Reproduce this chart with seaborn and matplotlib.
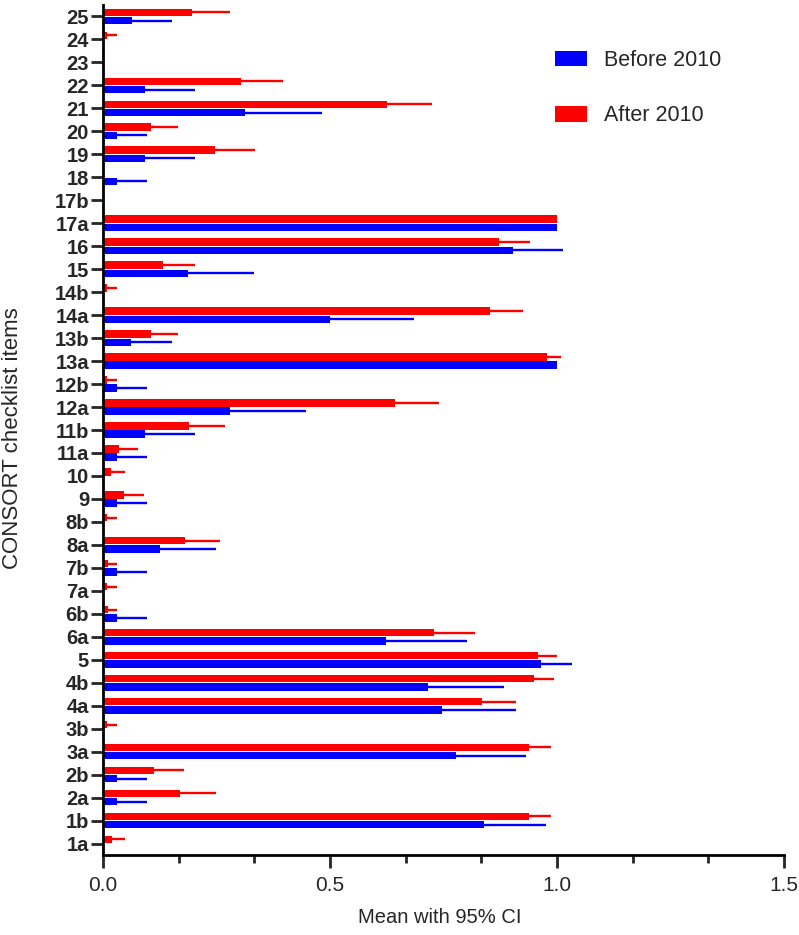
import matplotlib
matplotlib.use("Agg")
import matplotlib.pyplot as plt
import numpy as np
import pandas as pd
import seaborn as sns
from matplotlib.patches import Patch
from matplotlib.ticker import MultipleLocator, FixedLocator

# CONSORT items listed bottom -> top
items = ["1a", "1b", "2a", "2b", "3a", "3b", "4a", "4b", "5", "6a", "6b", "7a", "7b",
         "8a", "8b", "9", "10", "11a", "11b", "12a", "12b", "13a", "13b", "14a", "14b",
         "15", "16", "17a", "17b", "18", "19", "20", "21", "22", "23", "24", "25"]

before_mean = [0.000, 0.840, 0.030, 0.030, 0.778, 0.000, 0.747, 0.716, 0.965, 0.624, 0.030, 0.000, 0.030,
               0.125, 0.000, 0.030, 0.000, 0.030, 0.093, 0.280, 0.030, 1.000, 0.062, 0.499, 0.000,
               0.187, 0.903, 1.000, 0.000, 0.030, 0.093, 0.030, 0.312, 0.093, 0.000, 0.000, 0.063]
before_upper = [0.000, 0.976, 0.097, 0.097, 0.932, 0.000, 0.909, 0.884, 1.033, 0.802, 0.097, 0.000, 0.097,
                0.248, 0.000, 0.097, 0.000, 0.097, 0.203, 0.448, 0.097, 1.000, 0.152, 0.685, 0.000,
                0.332, 1.014, 1.000, 0.000, 0.097, 0.203, 0.097, 0.483, 0.203, 0.000, 0.000, 0.153]
after_mean = [0.020, 0.939, 0.170, 0.113, 0.939, 0.008, 0.834, 0.949, 0.958, 0.730, 0.012, 0.008, 0.010,
              0.180, 0.008, 0.046, 0.018, 0.036, 0.190, 0.644, 0.008, 0.977, 0.105, 0.853, 0.008,
              0.132, 0.873, 1.000, 0.000, 0.000, 0.246, 0.105, 0.626, 0.303, 0.000, 0.008, 0.197]
after_upper = [0.048, 0.987, 0.248, 0.178, 0.987, 0.031, 0.910, 0.994, 1.000, 0.820, 0.031, 0.031, 0.031,
               0.257, 0.031, 0.091, 0.049, 0.077, 0.269, 0.740, 0.031, 1.008, 0.166, 0.925, 0.031,
               0.202, 0.941, 1.000, 0.000, 0.000, 0.334, 0.166, 0.724, 0.396, 0.000, 0.031, 0.279]

periods = ["Before 2010", "After 2010"]
colors = {"Before 2010": "#0000FF", "After 2010": "#FF0000"}

n = len(items)
df = pd.DataFrame({
    "item": items * 2,
    "mean": before_mean + after_mean,
    "upper": before_upper + after_upper,
    "period": [periods[0]] * n + [periods[1]] * n,
})

sns.set_style("ticks")
plt.rcParams['font.family'] = ['Liberation Sans', 'DejaVu Sans']

W, H = 799, 935
fig = plt.figure(figsize=(W / 100, H / 100), dpi=100)
ax = fig.add_axes([103 / W, 1 - 855 / H, 681 / W, 850 / H])

order = items[::-1]            # top -> bottom
hue_order = ["After 2010", "Before 2010"]   # red above blue
sns.barplot(data=df, x="mean", y="item", hue="period", order=order, hue_order=hue_order,
            palette=colors, orient="h", width=0.72, gap=0.1, errorbar=None,
            saturation=1, legend=False, ax=ax, linewidth=0)

# upper 95% CI whiskers
lookup = df.set_index(["period", "item"])["upper"]
for container, level in zip(ax.containers, hue_order):
    for bar, it in zip(container, order):
        yc = bar.get_y() + bar.get_height() / 2
        m = bar.get_width()
        u = lookup[(level, it)]
        if u > m:
            ax.hlines(yc, m, u, color=colors[level], lw=1.7, zorder=3)

ax.set_ylim(n - 0.5, -0.5)
ax.set_xlim(0, 1.5)
ax.xaxis.set_major_locator(FixedLocator([0, 0.5, 1.0, 1.5]))
ax.set_xticklabels(["0.0", "0.5", "1.0", "1.5"])
ax.xaxis.set_minor_locator(MultipleLocator(1 / 6))

sns.despine(ax=ax)
for s in ["left", "bottom"]:
    ax.spines[s].set_linewidth(2)
    ax.spines[s].set_color("black")

ax.tick_params(axis="y", which="major", length=9, width=2, pad=1, labelsize=14.5)
ax.tick_params(axis="x", which="major", length=9, width=2, pad=6, labelsize=15)
ax.tick_params(axis="x", which="minor", length=6, width=2)
for lab in ax.get_yticklabels():
    lab.set_fontweight("bold")

ax.set_xlabel("Mean with 95% CI", fontsize=14.5)
ax.xaxis.set_label_coords(0.495, -0.062)
ax.set_ylabel("CONSORT checklist items", fontsize=16)
ax.yaxis.set_label_coords(-0.118, 0.49)

handles = [Patch(facecolor=colors[p], edgecolor="none") for p in periods]
ax.legend(handles, periods, loc="upper left", bbox_to_anchor=(0.664, 0.947),
          frameon=False, fontsize=15.5, handlelength=1.5, handleheight=0.72,
          handletextpad=0.75, labelspacing=1.6, borderpad=0, borderaxespad=0)

fig.savefig("out.png", dpi=100)
